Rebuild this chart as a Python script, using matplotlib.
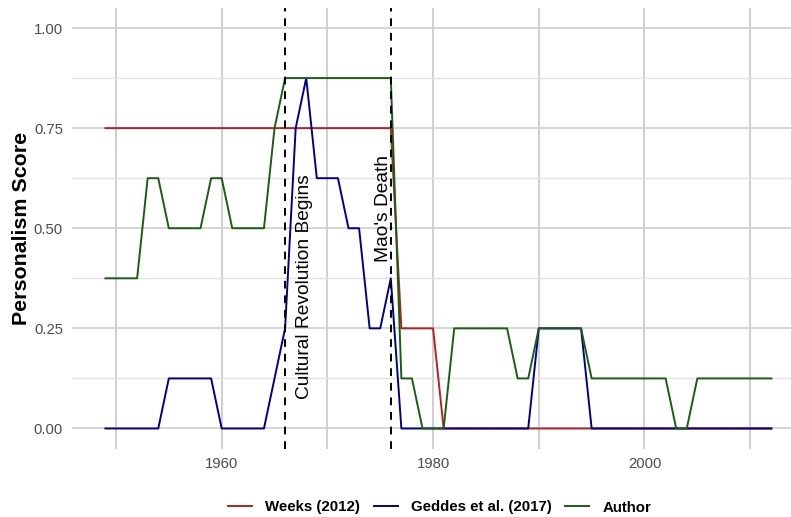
import matplotlib
matplotlib.use('Agg')
import matplotlib.pyplot as plt
import numpy as np

plt.rcParams['font.family'] = ['Liberation Sans', 'DejaVu Sans']

years = list(range(1949, 2013))
weeks = [0.75, 0.75, 0.75, 0.75, 0.75, 0.75, 0.75, 0.75, 0.75, 0.75,
         0.75, 0.75, 0.75, 0.75, 0.75, 0.75, 0.75, 0.75, 0.75, 0.75,
         0.75, 0.75, 0.75, 0.75, 0.75, 0.75, 0.75, 0.75,
         0.25, 0.25, 0.25, 0.25,
         0, 0, 0, 0, 0, 0, 0, 0, 0, 0, 0, 0, 0, 0, 0, 0,
         0, 0, 0, 0, 0, 0, 0, 0, 0, 0, 0, 0, 0, 0, 0, 0]
geddes = [0, 0, 0, 0, 0, 0,
          0.125, 0.125, 0.125, 0.125, 0.125,
          0, 0, 0, 0, 0,
          0.125, 0.25, 0.75, 0.875, 0.625, 0.625, 0.625, 0.5, 0.5, 0.25, 0.25, 0.375,
          0, 0, 0, 0, 0, 0, 0, 0, 0, 0, 0, 0, 0,
          0.25, 0.25, 0.25, 0.25, 0.25,
          0, 0, 0, 0, 0, 0, 0, 0, 0, 0, 0, 0, 0, 0, 0, 0, 0, 0]
author = [0.375, 0.375, 0.375, 0.375,
          0.625, 0.625,
          0.5, 0.5, 0.5, 0.5,
          0.625, 0.625,
          0.5, 0.5, 0.5, 0.5,
          0.75,
          0.875, 0.875, 0.875, 0.875, 0.875, 0.875, 0.875, 0.875, 0.875, 0.875, 0.875,
          0.125, 0.125,
          0, 0, 0,
          0.25, 0.25, 0.25, 0.25, 0.25, 0.25,
          0.125, 0.125,
          0.25, 0.25, 0.25, 0.25, 0.25,
          0.125, 0.125, 0.125, 0.125, 0.125, 0.125, 0.125, 0.125,
          0, 0,
          0.125, 0.125, 0.125, 0.125, 0.125, 0.125, 0.125, 0.125]

events = [1966, 1976]
event_labels = ['Cultural Revolution Begins', "Mao's Death"]

W, H = 791, 517
fig = plt.figure(figsize=(W / 100, H / 100), dpi=100)
ax = fig.add_axes([72 / W, (H - 448.5) / H, (W - 72) / W, 440.5 / H])

ax.set_xlim(1945.84, 2013.86)
ax.set_ylim(-0.05, 1.05)

ax.set_xticks([1960, 1980, 2000])
ax.set_xticks([1950, 1970, 1990, 2010], minor=True)
ax.set_yticks([0, 0.25, 0.5, 0.75, 1.0])
ax.set_yticklabels(['0.00', '0.25', '0.50', '0.75', '1.00'])
ax.set_yticks([0.125, 0.375, 0.625, 0.875], minor=True)

ax.grid(True, which='major', axis='x', color='#cccccc', lw=1.3)
ax.grid(True, which='minor', axis='x', color='#cccccc', lw=1.3)
ax.grid(True, which='major', axis='y', color='#d2d2d2', lw=1.3)
ax.grid(True, which='minor', axis='y', color='#e2e2e2', lw=1.0)
ax.set_axisbelow(True)

for s in ax.spines.values():
    s.set_visible(False)
ax.tick_params(which='both', length=0, labelsize=10.7, labelcolor='#4d4d4d')
ax.tick_params(axis='y', pad=6.5)
ax.tick_params(axis='x', pad=6)

ax.plot(years, weeks, color='#b22222', lw=1.4, label='Weeks (2012)')
ax.plot(years, geddes, color='#00008b', lw=1.4, label='Geddes et al. (2017)')
ax.plot(years, author, color='#1a5e12', lw=1.4, label='Author')

for yr in events:
    ax.axvline(yr, color='black', lw=1.4, ls=(0, (4, 3.5)))

ax.text(1967.85, 0.634, event_labels[0], rotation=90, ha='center', va='top', fontsize=13.8)
ax.text(1975.35, 0.684, event_labels[1], rotation=90, ha='center', va='top', fontsize=13.8)

ax.set_ylabel('Personalism Score', fontsize=15.4, fontweight='bold')
ax.yaxis.set_label_coords(-41 / 719, 0.5)

handles, labels = ax.get_legend_handles_labels()
leg = fig.legend(handles, labels, loc='center', bbox_to_anchor=(439.5 / W, 1 - 507.5 / H), ncol=3,
                 frameon=False, handlelength=1.6, columnspacing=0.93, handletextpad=0.87,
                 prop={'weight': 'bold', 'size': 10.8})

fig.savefig('out.png', dpi=100)
